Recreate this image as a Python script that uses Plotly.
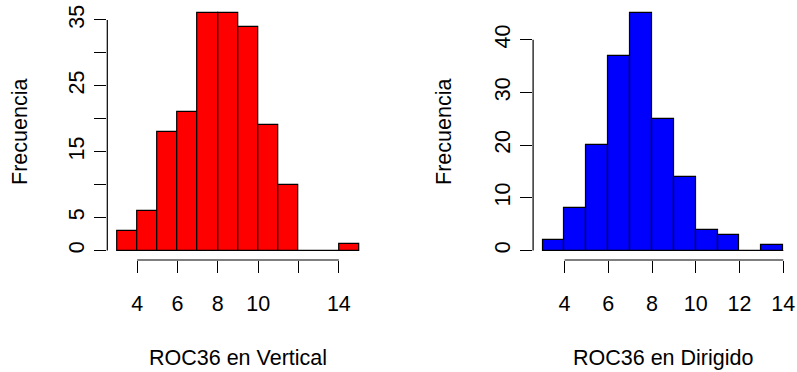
import plotly.graph_objects as go

# ---- data ----
breaks_vertical = [3, 4, 5, 6, 7, 8, 9, 10, 11, 12, 13, 14, 15]
counts_vertical = [3, 6, 18, 21, 36, 36, 34, 19, 10, 0, 0, 1]
breaks_dirigido = [3, 4, 5, 6, 7, 8, 9, 10, 11, 12, 13, 14]
counts_dirigido = [2, 8, 20, 37, 45, 25, 14, 4, 3, 0, 1]

xticks_vertical = [4, 6, 8, 10, 12, 14]
xticklabels_vertical = ["4", "6", "8", "10", "", "14"]
yticks_vertical = [0, 5, 10, 15, 20, 25, 30, 35]
yticklabels_vertical = ["0", "5", "", "15", "", "25", "", "35"]

xticks_dirigido = [4, 6, 8, 10, 12, 14]
xticklabels_dirigido = ["4", "6", "8", "10", "12", "14"]
yticks_dirigido = [0, 10, 20, 30, 40]
yticklabels_dirigido = ["0", "10", "20", "30", "40"]

xlabel_vertical = "ROC36 en Vertical"
xlabel_dirigido = "ROC36 en Dirigido"
ylabel = "Frecuencia"

FONT = "Liberation Sans, Arial, Helvetica, sans-serif"
FS = 21.5
W, H = 797, 372

fig = go.Figure()


def rng(lo, hi):
    d = (hi - lo) * 0.04
    return [lo - d, hi + d]


panels = [
    dict(breaks=breaks_vertical, counts=counts_vertical, color="#FF0000",
         xt=xticks_vertical, xtl=xticklabels_vertical,
         yt=yticks_vertical, ytl=yticklabels_vertical,
         xlab=xlabel_vertical, xdom=[107.3 / W, 368.7 / W], ytitle_x=20.0, ax=""),
    dict(breaks=breaks_dirigido, counts=counts_dirigido, color="#0000FF",
         xt=xticks_dirigido, xtl=xticklabels_dirigido,
         yt=yticks_dirigido, ytl=yticklabels_dirigido,
         xlab=xlabel_dirigido, xdom=[533.1 / W, 792.9 / W], ytitle_x=444.0, ax="2"),
]

ydom = [(H - 260.0) / H, (H - 3.9) / H]
tf = dict(family=FONT, size=FS, color="black")

for p in panels:
    b = p["breaks"]
    c = p["counts"]
    centers = [(b[i] + b[i + 1]) / 2 for i in range(len(c))]
    widths = [b[i + 1] - b[i] for i in range(len(c))]
    xa = "x" + p["ax"]
    ya = "y" + p["ax"]
    # baseline for empty bins (R draws zero-height rectangles as a line)
    fig.add_trace(go.Scatter(x=[b[0], b[-1]], y=[0, 0], mode="lines",
                             line=dict(color="black", width=1),
                             xaxis=xa, yaxis=ya, hoverinfo="skip", showlegend=False))
    fig.add_trace(go.Bar(x=centers, y=c, width=widths, marker=dict(color=p["color"],
                         line=dict(color="black", width=1.2)),
                         xaxis=xa, yaxis=ya, showlegend=False))
    lay_x = "xaxis" + p["ax"]
    lay_y = "yaxis" + p["ax"]
    fig.layout[lay_x] = dict(
        domain=p["xdom"], range=rng(b[0], b[-1]), anchor=ya,
        tickvals=p["xt"], ticktext=p["xtl"], ticks="outside", ticklen=12,
        tickwidth=1.2, tickcolor="black", showline=False, showgrid=False,
        zeroline=False, tickfont=tf, automargin=False, ticklabelstandoff=12,
        fixedrange=True,
    )
    ymax = max(c)
    fig.layout[lay_y] = dict(
        domain=ydom, range=rng(0, ymax), anchor=xa,
        tickvals=p["yt"], ticktext=p["ytl"], ticks="outside", ticklen=12,
        tickwidth=1.2, tickcolor="black", showline=False, showgrid=False,
        zeroline=False, tickangle=-90, tickfont=tf, automargin=False,
        ticklabelstandoff=2, fixedrange=True,
    )
    # axis lines spanning first to last tick (R style)
    fig.add_shape(type="line", xref=xa, yref=ya + " domain",
                  x0=min(p["xt"]), x1=max(p["xt"]), y0=0, y1=0,
                  line=dict(color="black", width=1.2))
    fig.add_shape(type="line", xref=xa + " domain", yref=ya,
                  x0=0, x1=0, y0=min(p["yt"]), y1=max(p["yt"]),
                  line=dict(color="black", width=1.2))
    # axis titles
    fig.add_annotation(text=p["xlab"], xref="paper", yref="paper",
                       x=(p["xdom"][0] + p["xdom"][1]) / 2, y=(H - 357.5) / H,
                       xanchor="center", yanchor="middle", showarrow=False, font=tf)
    fig.add_annotation(text=ylabel, xref="paper", yref="paper",
                       x=p["ytitle_x"] / W, y=(ydom[0] + ydom[1]) / 2,
                       xanchor="center", yanchor="middle", textangle=-90,
                       showarrow=False, font=tf)

fig.update_layout(
    width=W, height=H, margin=dict(l=0, r=0, t=0, b=0),
    paper_bgcolor="white", plot_bgcolor="white",
    bargap=0, showlegend=False,
    font=tf,
)

fig.write_html("out.html", config={"displayModeBar": False},
               post_script="document.body.style.margin='0';document.body.style.overflow='hidden';")
